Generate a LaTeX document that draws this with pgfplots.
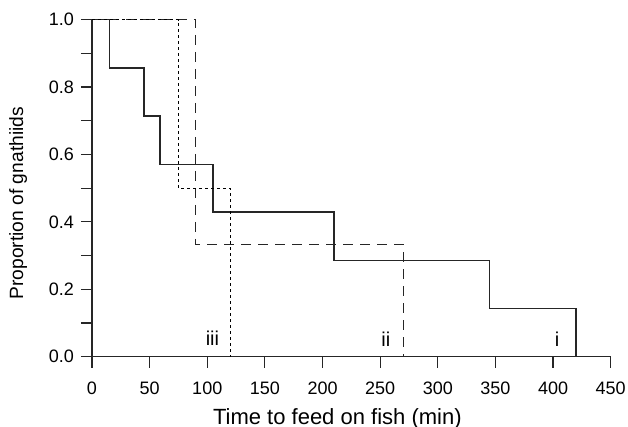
\documentclass[border=0pt]{standalone}
\usepackage{pgfplots}
\pgfplotsset{compat=1.18}
\usepackage{fontspec}
\setmainfont{Liberation Sans}
\begin{document}
\begin{tikzpicture}
\useasboundingbox (-46pt,-35.15pt) rectangle (268pt,178.35pt);
\begin{axis}[
  at={(0pt,0pt)}, anchor=south west,
  scale only axis,
  width=259.35pt, height=168.5pt,
  xmin=0, xmax=450, ymin=0, ymax=1,
  axis lines=left,
  axis line style={-, line width=0.6pt, black!85},
  every tick/.style={line width=0.6pt, black!85},
  tick align=outside,
  major tick length=5.5pt, minor tick length=5.5pt,
  xtick={0,50,...,450},
  ytick={0,0.2,...,1.0},
  minor y tick num=1,
  yticklabel style={/pgf/number format/.cd, fixed, fixed zerofill, precision=1},
  xticklabel style={yshift=-3.5pt, /pgf/number format/.cd, fixed, precision=0},
  /pgf/number format/assume math mode=true,
  tick label style={font=\fontsize{9}{11}\selectfont},
  xlabel={Time to feed on fish (min)},
  ylabel={Proportion of gnathiids},
  xlabel style={font=\fontsize{11}{13}\selectfont, yshift=-0.2pt, xshift=-7pt},
  ylabel style={font=\fontsize{9.6}{11}\selectfont, yshift=4pt, xshift=-7.5pt},
  clip=false,
]
\addplot[const plot, line width=0.65pt, black!85] coordinates {
  (0,1) (15,0.857) (45,0.714) (59,0.571) (105,0.429) (210,0.286) (345,0.143) (420,0)
};
\addplot[const plot, line width=0.65pt, black!85, dash pattern=on 5pt off 3.5pt] coordinates {
  (0,1) (90,0.333) (270,0)
};
\addplot[const plot, line width=0.65pt, black, dash pattern=on 1.4pt off 1.6pt] coordinates {
  (0,1) (75,0.5) (120,0)
};
\node[font=\fontsize{10}{12}\selectfont, anchor=base] at (axis cs:104.5,0.0326) {iii};
\node[font=\fontsize{10}{12}\selectfont, anchor=base] at (axis cs:254.9,0.03) {ii};
\node[font=\fontsize{10}{12}\selectfont, anchor=base] at (axis cs:403.5,0.03) {i};
\end{axis}
\end{tikzpicture}
\end{document}
